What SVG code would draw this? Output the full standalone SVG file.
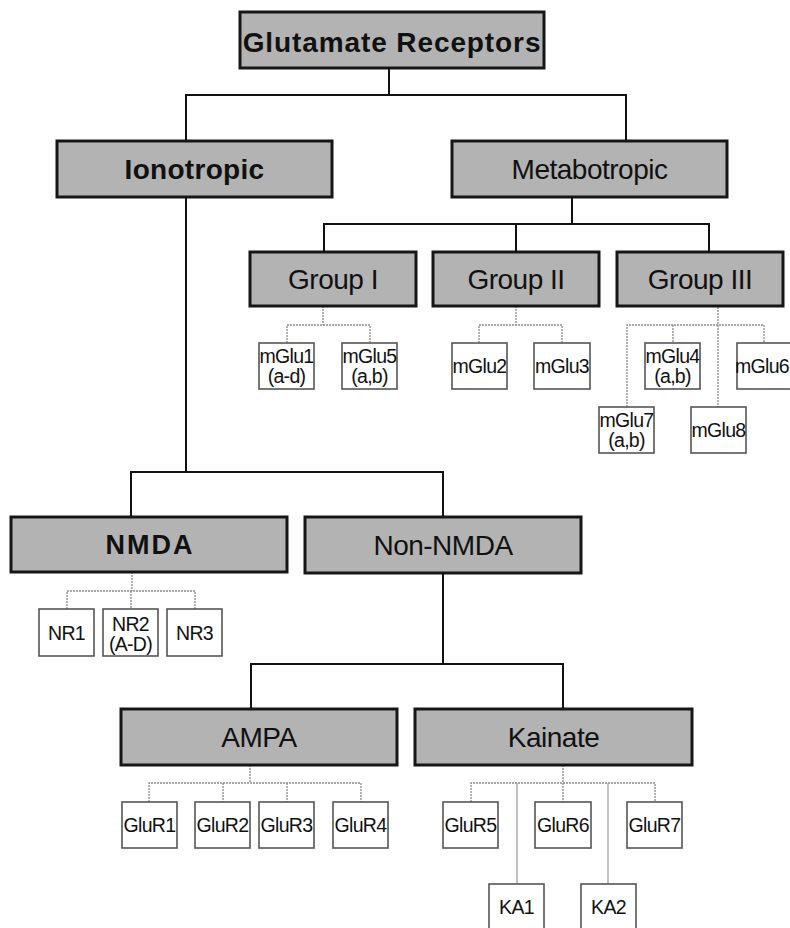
<svg xmlns="http://www.w3.org/2000/svg" width="790" height="928" viewBox="0 0 790 928">
  <style>
    .big { fill: #b3b3b3; stroke: #161616; stroke-width: 3; }
    .leaf { fill: #ffffff; stroke: #555555; stroke-width: 1.6; }
    .t { font-family: "Liberation Sans", Arial, sans-serif; fill: #111111; text-anchor: middle; }
    .bold { font-weight: bold; }
    .lg { font-size: 28px; letter-spacing: -0.5px; }
    .sm { font-size: 19.5px; letter-spacing: -0.7px; }
    .main { fill: none; stroke: #111111; stroke-width: 2; }
    .sub { fill: none; stroke: #8a8a8a; stroke-width: 1.3; stroke-dasharray: 2 1; }
    .thin { fill: none; stroke: #a0a0a0; stroke-width: 1.3; }
  </style>
  <rect width="790" height="928" fill="#ffffff"/>

  <!-- connectors -->
  <g id="connectors">
    <path class="main" d="M389 68V95M186 141V95H626V141"/>
    <path class="main" d="M572 197V224M324 252V224H709V252M516 224V252"/>
    <path class="main" d="M186 197V472M131 517V472H443V517"/>
    <path class="main" d="M443 573V664M251 709V664H563V709"/>
    <path class="sub" d="M323 306V325M287 343V325H370V343"/>
    <path class="sub" d="M516 306V325M479 343V325H562V343"/>
    <path class="sub" d="M718 307V407M627 407V325H764V343M673 325V343"/>
    <path class="sub" d="M132 572V591M67 609V591H195V609M131 591V609"/>
    <path class="sub" d="M250 765V783M149 802V783H361V802M223 783V802M287 783V802"/>
    <path class="sub" d="M563 765V802M471 802V783H655V802"/>
    <path class="thin" d="M517 783V884M608 783V884"/>
  </g>

  <!-- main categories -->
  <g id="glutamate-receptors">
    <rect class="big" x="240" y="12" width="304" height="56"/>
    <text class="t bold" x="392" y="52" font-size="28" letter-spacing="0.9">Glutamate Receptors</text>
  </g>
  <g id="ionotropic">
    <rect class="big" x="57" y="141" width="275" height="56"/>
    <text class="t bold" x="194.5" y="179" font-size="28" letter-spacing="0.3">Ionotropic</text>
  </g>
  <g id="metabotropic">
    <rect class="big" x="452" y="141" width="275" height="56"/>
    <text class="t lg" x="589.5" y="179">Metabotropic</text>
  </g>

  <!-- metabotropic groups -->
  <g id="group-1">
    <rect class="big" x="250" y="252" width="166" height="54"/>
    <text class="t lg" x="333" y="289">Group I</text>
  </g>
  <g id="group-2">
    <rect class="big" x="433" y="252" width="166" height="54"/>
    <text class="t lg" x="516" y="289">Group II</text>
  </g>
  <g id="group-3">
    <rect class="big" x="617" y="252" width="166" height="54"/>
    <text class="t lg" x="700" y="289">Group III</text>
  </g>

  <!-- mGlu subtypes -->
  <g id="mglu1">
    <rect class="leaf" x="259" y="343" width="55" height="46"/>
    <text class="t sm" x="286.5" y="363">mGlu1</text>
    <text class="t sm" x="286.5" y="383">(a-d)</text>
  </g>
  <g id="mglu5">
    <rect class="leaf" x="342" y="343" width="55" height="46"/>
    <text class="t sm" x="369.5" y="363">mGlu5</text>
    <text class="t sm" x="369.5" y="383">(a,b)</text>
  </g>
  <g id="mglu2">
    <rect class="leaf" x="452" y="343" width="55" height="46"/>
    <text class="t sm" x="479.5" y="373">mGlu2</text>
  </g>
  <g id="mglu3">
    <rect class="leaf" x="534" y="343" width="56" height="46"/>
    <text class="t sm" x="562" y="373">mGlu3</text>
  </g>
  <g id="mglu4">
    <rect class="leaf" x="645" y="343" width="55" height="46"/>
    <text class="t sm" x="672.5" y="363">mGlu4</text>
    <text class="t sm" x="672.5" y="383">(a,b)</text>
  </g>
  <g id="mglu6">
    <rect class="leaf" x="737" y="343" width="56" height="46"/>
    <text class="t sm" x="762" y="373">mGlu6</text>
  </g>
  <g id="mglu7">
    <rect class="leaf" x="599" y="407" width="55" height="46"/>
    <text class="t sm" x="626.5" y="427">mGlu7</text>
    <text class="t sm" x="626.5" y="447">(a,b)</text>
  </g>
  <g id="mglu8">
    <rect class="leaf" x="691" y="407" width="55" height="46"/>
    <text class="t sm" x="718.5" y="437">mGlu8</text>
  </g>

  <!-- ionotropic families -->
  <g id="nmda">
    <rect class="big" x="11" y="517" width="276" height="55"/>
    <text class="t bold" x="150" y="554" font-size="27" letter-spacing="2">NMDA</text>
  </g>
  <g id="non-nmda">
    <rect class="big" x="305" y="517" width="276" height="56"/>
    <text class="t lg" x="443" y="555">Non-NMDA</text>
  </g>
  <g id="nr1">
    <rect class="leaf" x="39" y="609" width="55" height="47"/>
    <text class="t sm" x="66.5" y="639.5">NR1</text>
  </g>
  <g id="nr2">
    <rect class="leaf" x="103" y="609" width="55" height="47"/>
    <text class="t sm" x="130.5" y="631">NR2</text>
    <text class="t sm" x="130.5" y="651">(A-D)</text>
  </g>
  <g id="nr3">
    <rect class="leaf" x="167" y="609" width="55" height="47"/>
    <text class="t sm" x="194.5" y="639.5">NR3</text>
  </g>

  <!-- non-NMDA families -->
  <g id="ampa">
    <rect class="big" x="121" y="709" width="276" height="56"/>
    <text class="t lg" x="259" y="747">AMPA</text>
  </g>
  <g id="kainate">
    <rect class="big" x="415" y="709" width="277" height="56"/>
    <text class="t lg" x="553.5" y="747">Kainate</text>
  </g>
  <g id="glur1">
    <rect class="leaf" x="122" y="802" width="55" height="46"/>
    <text class="t sm" x="149.5" y="832">GluR1</text>
  </g>
  <g id="glur2">
    <rect class="leaf" x="195" y="802" width="55" height="46"/>
    <text class="t sm" x="222.5" y="832">GluR2</text>
  </g>
  <g id="glur3">
    <rect class="leaf" x="259" y="802" width="55" height="46"/>
    <text class="t sm" x="286.5" y="832">GluR3</text>
  </g>
  <g id="glur4">
    <rect class="leaf" x="333" y="802" width="55" height="46"/>
    <text class="t sm" x="360.5" y="832">GluR4</text>
  </g>
  <g id="glur5">
    <rect class="leaf" x="443" y="802" width="55" height="46"/>
    <text class="t sm" x="470.5" y="832">GluR5</text>
  </g>
  <g id="glur6">
    <rect class="leaf" x="535" y="802" width="56" height="46"/>
    <text class="t sm" x="563" y="832">GluR6</text>
  </g>
  <g id="glur7">
    <rect class="leaf" x="627" y="802" width="55" height="46"/>
    <text class="t sm" x="654.5" y="832">GluR7</text>
  </g>
  <g id="ka1">
    <rect class="leaf" x="489" y="884" width="55" height="50"/>
    <text class="t sm" x="516.5" y="914">KA1</text>
  </g>
  <g id="ka2">
    <rect class="leaf" x="581" y="884" width="55" height="50"/>
    <text class="t sm" x="608.5" y="914">KA2</text>
  </g>
</svg>
